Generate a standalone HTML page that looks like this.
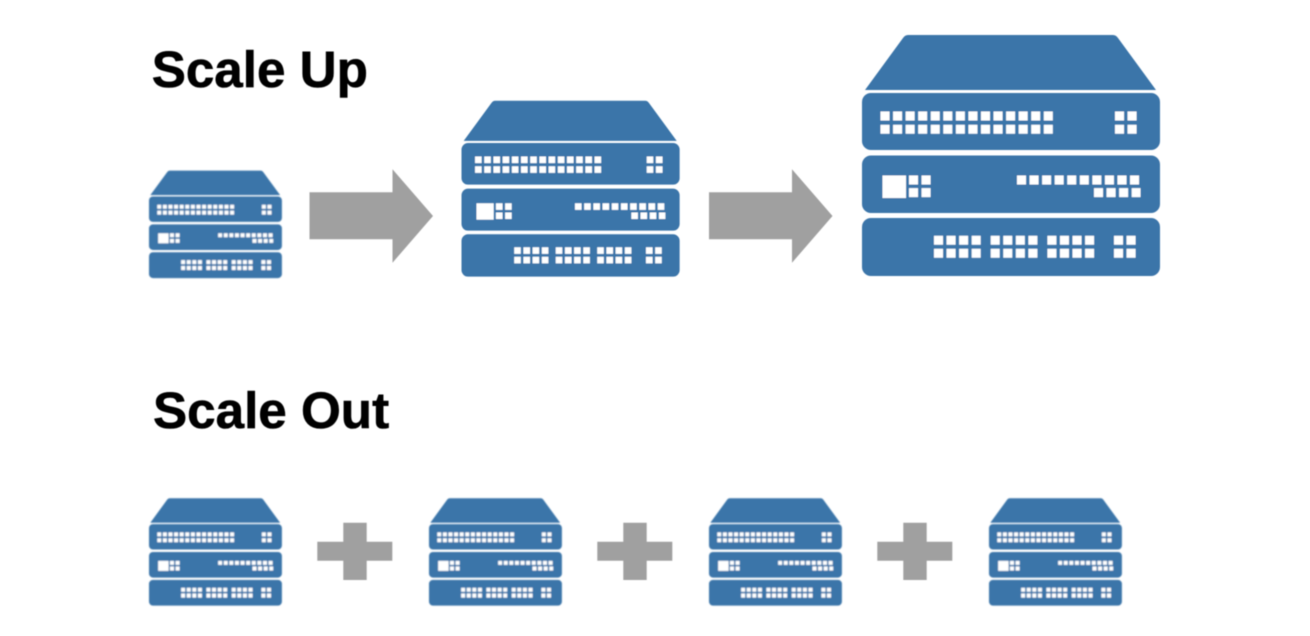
<!DOCTYPE html>
<html>
<head>
<meta charset="utf-8">
<title>Scale Up and Scale Out</title>
<style>
html,body{margin:0;padding:0;background:#fff;width:1310px;height:636px;overflow:hidden}
svg{display:block}
text{font-family:"Liberation Sans",Arial,sans-serif;font-weight:700;fill:#000;stroke:#000;stroke-width:.6}
</style>
</head>
<body>
<svg width="1310" height="636" viewBox="0 0 1310 636" xmlns="http://www.w3.org/2000/svg">
<defs>
<filter id="b" x="-5%" y="-5%" width="110%" height="110%"><feGaussianBlur stdDeviation="0.6"/></filter>
<filter id="s" x="-5%" y="-5%" width="110%" height="110%"><feGaussianBlur stdDeviation="0.85"/></filter>
<g id="sw">
  <path d="M908 35H1113Q1116 35 1118 38L1156 90H865L903 38Q905 35 908 35Z" fill="#3a75a9"/>
  <rect x="862" y="93" width="298" height="57" rx="9" fill="#3a75a9"/>
  <rect x="862" y="155.5" width="298" height="57.5" rx="9" fill="#3a75a9"/>
  <rect x="862" y="218" width="298" height="58" rx="9" fill="#3a75a9"/>
  <g stroke="#fff" stroke-width="9" fill="none" stroke-dasharray="9 3.56">
    <path d="M880.5 116H1053.5M880.5 129.3H1053.5"/>
    <path d="M1115 116H1137M1115 129.3H1137"/>
    <path d="M909 180H931M909 192.6H931"/>
    <path d="M1017 180H1140.5M1094 192.6H1140.5"/>
    <path d="M934 240.3H982M934 253.3H982"/>
    <path d="M990.7 240.3H1038.7M990.7 253.3H1038.7"/>
    <path d="M1047.4 240.3H1095.4M1047.4 253.3H1095.4"/>
    <path d="M1114 240.3H1136M1114 253.3H1136"/>
  </g>
  <rect x="882.5" y="175.5" width="23.5" height="22.5" fill="#fff"/>
</g>
<path id="arrow" d="M0 23.3H83V0.3L123.5 47 83 93.7V70.3H0Z" fill="#a0a0a0"/>
<path id="plus" d="M343.3 522.7H366.7V541.7H392.3V560.7H366.7V580H343.3V560.7H317.3V541.7H343.3Z" fill="#a0a0a0"/>
</defs>
<rect width="1310" height="636" fill="#fff"/>
<g filter="url(#b)">
  <text x="151.7" y="87" font-size="51.2">Scale Up</text>
  <text x="153" y="428" font-size="51.2">Scale Out</text>

  <use href="#sw" transform="translate(461.5 100.7) scale(.732 .73) translate(-862 -35)"/>
  <use href="#sw"/>

  <use href="#arrow" transform="translate(309.5 169)"/>
  <use href="#arrow" transform="translate(709 169)"/>

  <use href="#plus"/>
  <use href="#plus" transform="translate(280 0)"/>
  <use href="#plus" transform="translate(560 0)"/>
</g>
<g filter="url(#s)">
  <use href="#sw" transform="translate(149 170.6) scale(.446) translate(-862 -35)"/>
  <use href="#sw" transform="translate(149 498.2) scale(.446) translate(-862 -35)"/>
  <use href="#sw" transform="translate(429 498.2) scale(.446) translate(-862 -35)"/>
  <use href="#sw" transform="translate(709 498.2) scale(.446) translate(-862 -35)"/>
  <use href="#sw" transform="translate(989 498.2) scale(.446) translate(-862 -35)"/>
</g>
</svg>
</body>
</html>
